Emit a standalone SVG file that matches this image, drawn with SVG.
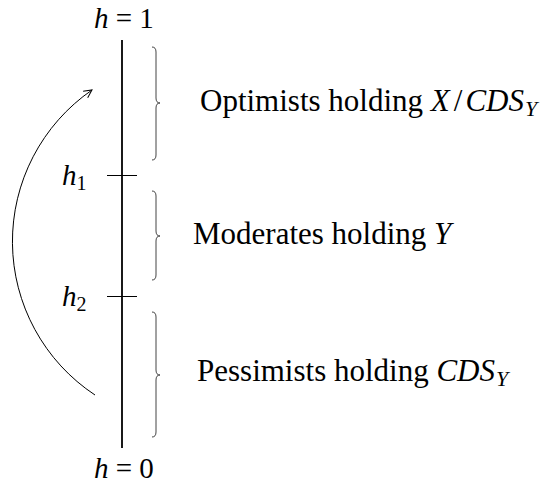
<svg xmlns="http://www.w3.org/2000/svg" width="545" height="487" viewBox="0 0 545 487">
<style>
text{font-family:"Liberation Serif","Times New Roman",serif;font-size:29px;fill:#000}
.lbl{font-size:31px}
.i{font-style:italic}
.sub{font-size:20px}
.lsub{font-size:22px}
.brace{fill:none;stroke:#444;stroke-width:1}
.tick{stroke:#000;stroke-width:1}
</style>
<defs>
<marker id="arr" viewBox="0 0 10 10" refX="9" refY="5" markerWidth="10" markerHeight="10" markerUnits="userSpaceOnUse" orient="auto">
<path d="M1,1 L9,5 L1,9" fill="none" stroke="#000" stroke-width="1"/>
</marker>
</defs>
<g id="axis">
<line x1="122" y1="40" x2="122" y2="448" stroke="#000" stroke-width="1.8"/>
<text x="94" y="28"><tspan class="i">h</tspan> = 1</text>
<text x="94" y="478"><tspan class="i">h</tspan> = 0</text>
</g>
<g id="h1">
<line class="tick" x1="107" y1="175.5" x2="137" y2="175.5"/>
<text x="62" y="185"><tspan class="i">h</tspan><tspan class="sub" dy="5">1</tspan></text>
</g>
<g id="h2">
<line class="tick" x1="107" y1="296.5" x2="137" y2="296.5"/>
<text x="62" y="306"><tspan class="i">h</tspan><tspan class="sub" dy="5">2</tspan></text>
</g>
<g id="optimists">
<path class="brace" d="M152,47 Q156,47 156,52 L156,98 Q156,103 160,103 Q156,103 156,108 L156,155 Q156,160 152,160"/>
<text class="lbl" x="200" y="111">Optimists holding <tspan class="i">X</tspan><tspan dx="4">/</tspan><tspan class="i" dx="3">CDS</tspan><tspan class="i lsub" dx="1" dy="5">Y</tspan></text>
</g>
<g id="moderates">
<path class="brace" d="M152,191 Q156,191 156,196 L156,231 Q156,236 160,236 Q156,236 156,241 L156,275 Q156,280 152,280"/>
<text class="lbl" x="193" y="244">Moderates holding <tspan class="i">Y</tspan></text>
</g>
<g id="pessimists">
<path class="brace" d="M152,312 Q156,312 156,317 L156,370 Q156,375 160,375 Q156,375 156,380 L156,432 Q156,437 152,437"/>
<text class="lbl" x="197" y="381">Pessimists holding <tspan class="i">CDS</tspan><tspan class="i lsub" dx="1" dy="5">Y</tspan></text>
</g>
<g id="connectors">
<path d="M95,395 A184,184 0 0 1 92,90" fill="none" stroke="#000" stroke-width="1" marker-end="url(#arr)"/>
</g>
</svg>
